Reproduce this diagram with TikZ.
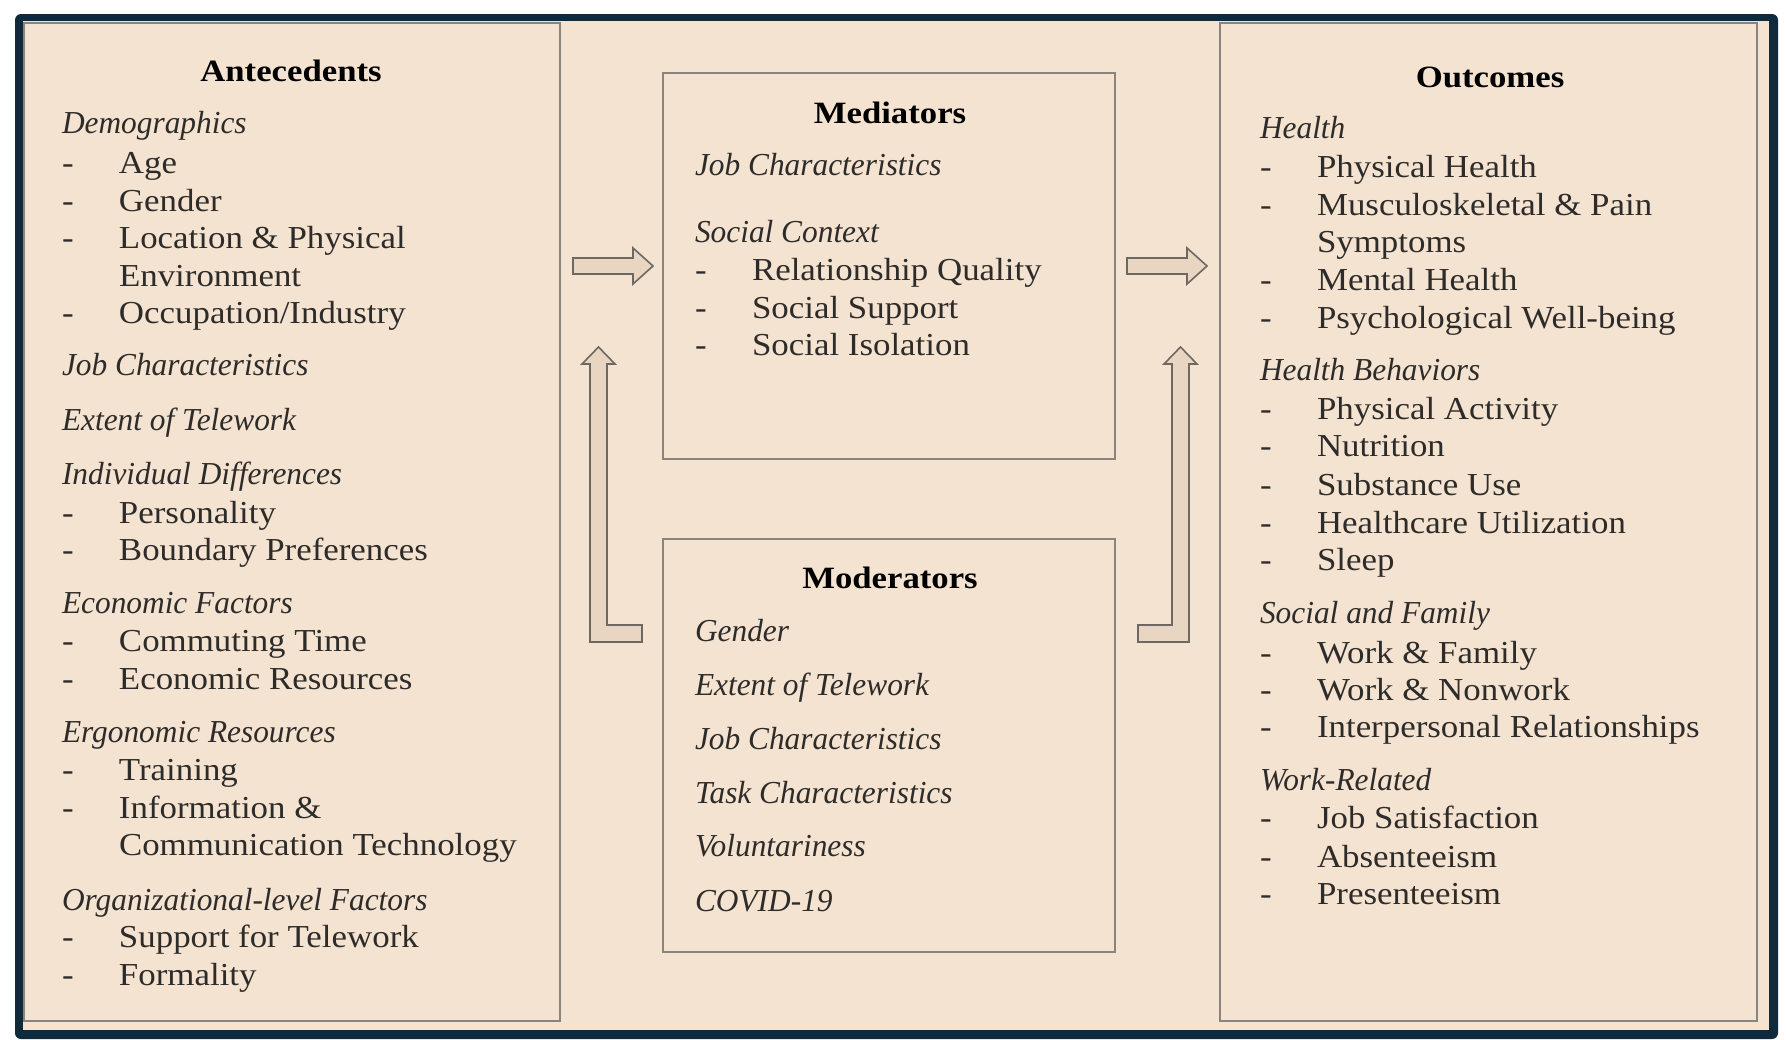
\documentclass[tikz,border=0pt]{standalone}
\usepackage{fontspec}
\setmainfont{Liberation Serif}[FakeStretch=1.09]
\newfontfamily\hdfont{Liberation Serif}[FakeStretch=0.98]
\newfontfamily\ttlfont{Liberation Serif}[FakeStretch=1.12]
\usetikzlibrary{calc}
\definecolor{frameblue}{HTML}{0E2A3B}
\definecolor{beige}{HTML}{F4E3D0}
\definecolor{boxline}{HTML}{8A847E}
\definecolor{ink}{HTML}{2E2C2A}
\definecolor{arrowfill}{HTML}{E8D5C2}
\definecolor{arrowline}{HTML}{6E6862}
\newcommand\dashitem[1]{\makebox[57pt][l]{-}#1}
\begin{document}
\begin{tikzpicture}[x=1pt,y=-1pt,
  every node/.style={inner sep=0pt,outer sep=0pt},
  txt/.style={anchor=base west,font=\fontsize{32}{37}\selectfont,text=ink},
  hd/.style={anchor=base west,font=\hdfont\fontsize{32}{37}\selectfont\itshape,text=ink},
  ttl/.style={anchor=base,font=\ttlfont\fontsize{31}{37}\selectfont\bfseries,text=black},
  panel/.style={draw=boxline,line width=2.5pt,rectangle,anchor=north west},
  blockarrow/.style={fill=arrowfill,draw=arrowline,line width=1.6pt,line join=miter}]
\useasboundingbox (0,0) rectangle (1786,1039);
\fill[white] (0,0) rectangle (1786,1039);
\fill[frameblue,rounded corners=6pt] (15,14) rectangle (1778,1039);
\fill[beige] (23,21) rectangle (1769,1030);

% panels
\node[panel,minimum width=536pt,minimum height=998pt] (ante) at (24,23) {};
\node[panel,minimum width=452pt,minimum height=386pt] (med) at (663,73) {};
\node[panel,minimum width=452pt,minimum height=413pt] (mod) at (663,539) {};
\node[panel,minimum width=537pt,minimum height=998pt] (out) at (1220,23) {};

% arrows
\draw[blockarrow] (573,258) -- (633,258) -- (633,248) -- (653,266) -- (633,284) -- (633,274) -- (573,274) -- cycle;
\draw[blockarrow] (1127,258) -- (1187,258) -- (1187,248) -- (1207,266) -- (1187,284) -- (1187,274) -- (1127,274) -- cycle;
\draw[blockarrow] (642,625) -- (607,625) -- (607,364) -- (615,364) -- (598.5,347) -- (582,364) -- (590,364) -- (590,642) -- (642,642) -- cycle;
\draw[blockarrow] (1138,625) -- (1172,625) -- (1172,364) -- (1164,364) -- (1180.5,347) -- (1197,364) -- (1189,364) -- (1189,642) -- (1138,642) -- cycle;

% Antecedents
\node[ttl] (a0) at (291,81) {Antecedents};
\node[hd] (a1) at (62,133) {Demographics};
\node[txt] (a2) at (62,173) {\dashitem{Age}};
\node[txt] (a3) at (62,211) {\dashitem{Gender}};
\node[txt] (a4) at (62,248) {\dashitem{Location \& Physical}};
\node[txt] (a5) at (119,286) {Environment};
\node[txt] (a6) at (62,323) {\dashitem{Occupation/Industry}};
\node[hd] (a7) at (62,375) {Job Characteristics};
\node[hd] (a8) at (62,430) {Extent of Telework};
\node[hd] (a9) at (62,484) {Individual Differences};
\node[txt] (a10) at (62,523) {\dashitem{Personality}};
\node[txt] (a11) at (62,560) {\dashitem{Boundary Preferences}};
\node[hd] (a12) at (62,613) {Economic Factors};
\node[txt] (a13) at (62,651) {\dashitem{Commuting Time}};
\node[txt] (a14) at (62,689) {\dashitem{Economic Resources}};
\node[hd] (a15) at (62,742) {Ergonomic Resources};
\node[txt] (a16) at (62,780) {\dashitem{Training}};
\node[txt] (a17) at (62,818) {\dashitem{Information \&}};
\node[txt] (a18) at (119,855) {Communication Technology};
\node[hd] (a19) at (62,910) {Organizational-level Factors};
\node[txt] (a20) at (62,947) {\dashitem{Support for Telework}};
\node[txt] (a21) at (62,985) {\dashitem{Formality}};

% Mediators
\node[ttl] (m0) at (890,123) {Mediators};
\node[hd] (m1) at (695,175) {Job Characteristics};
\node[hd] (m2) at (695,242) {Social Context};
\node[txt] (m3) at (695,280) {\dashitem{Relationship Quality}};
\node[txt] (m4) at (695,318) {\dashitem{Social Support}};
\node[txt] (m5) at (695,355) {\dashitem{Social Isolation}};

% Moderators
\node[ttl] (d0) at (890,588) {Moderators};
\node[hd] (d1) at (695,641) {Gender};
\node[hd] (d2) at (695,695) {Extent of Telework};
\node[hd] (d3) at (695,749) {Job Characteristics};
\node[hd] (d4) at (695,803) {Task Characteristics};
\node[hd] (d5) at (695,856) {Voluntariness};
\node[hd] (d6) at (695,911) {COVID-19};

% Outcomes
\node[ttl] (o0) at (1490,87) {Outcomes};
\node[hd] (o1) at (1260,138) {Health};
\node[txt] (o2) at (1260,177) {\dashitem{Physical Health}};
\node[txt] (o3) at (1260,215) {\dashitem{Musculoskeletal \& Pain}};
\node[txt] (o4) at (1317,252) {Symptoms};
\node[txt] (o5) at (1260,290) {\dashitem{Mental Health}};
\node[txt] (o6) at (1260,328) {\dashitem{Psychological Well-being}};
\node[hd] (o7) at (1260,380) {Health Behaviors};
\node[txt] (o8) at (1260,419) {\dashitem{Physical Activity}};
\node[txt] (o9) at (1260,456) {\dashitem{Nutrition}};
\node[txt] (o10) at (1260,495) {\dashitem{Substance Use}};
\node[txt] (o11) at (1260,533) {\dashitem{Healthcare Utilization}};
\node[txt] (o12) at (1260,570) {\dashitem{Sleep}};
\node[hd] (o13) at (1260,623) {Social and Family};
\node[txt] (o14) at (1260,663) {\dashitem{Work \& Family}};
\node[txt] (o15) at (1260,700) {\dashitem{Work \& Nonwork}};
\node[txt] (o16) at (1260,737) {\dashitem{Interpersonal Relationships}};
\node[hd] (o17) at (1260,790) {Work-Related};
\node[txt] (o18) at (1260,828) {\dashitem{Job Satisfaction}};
\node[txt] (o19) at (1260,867) {\dashitem{Absenteeism}};
\node[txt] (o20) at (1260,904) {\dashitem{Presenteeism}};
\end{tikzpicture}
\end{document}
